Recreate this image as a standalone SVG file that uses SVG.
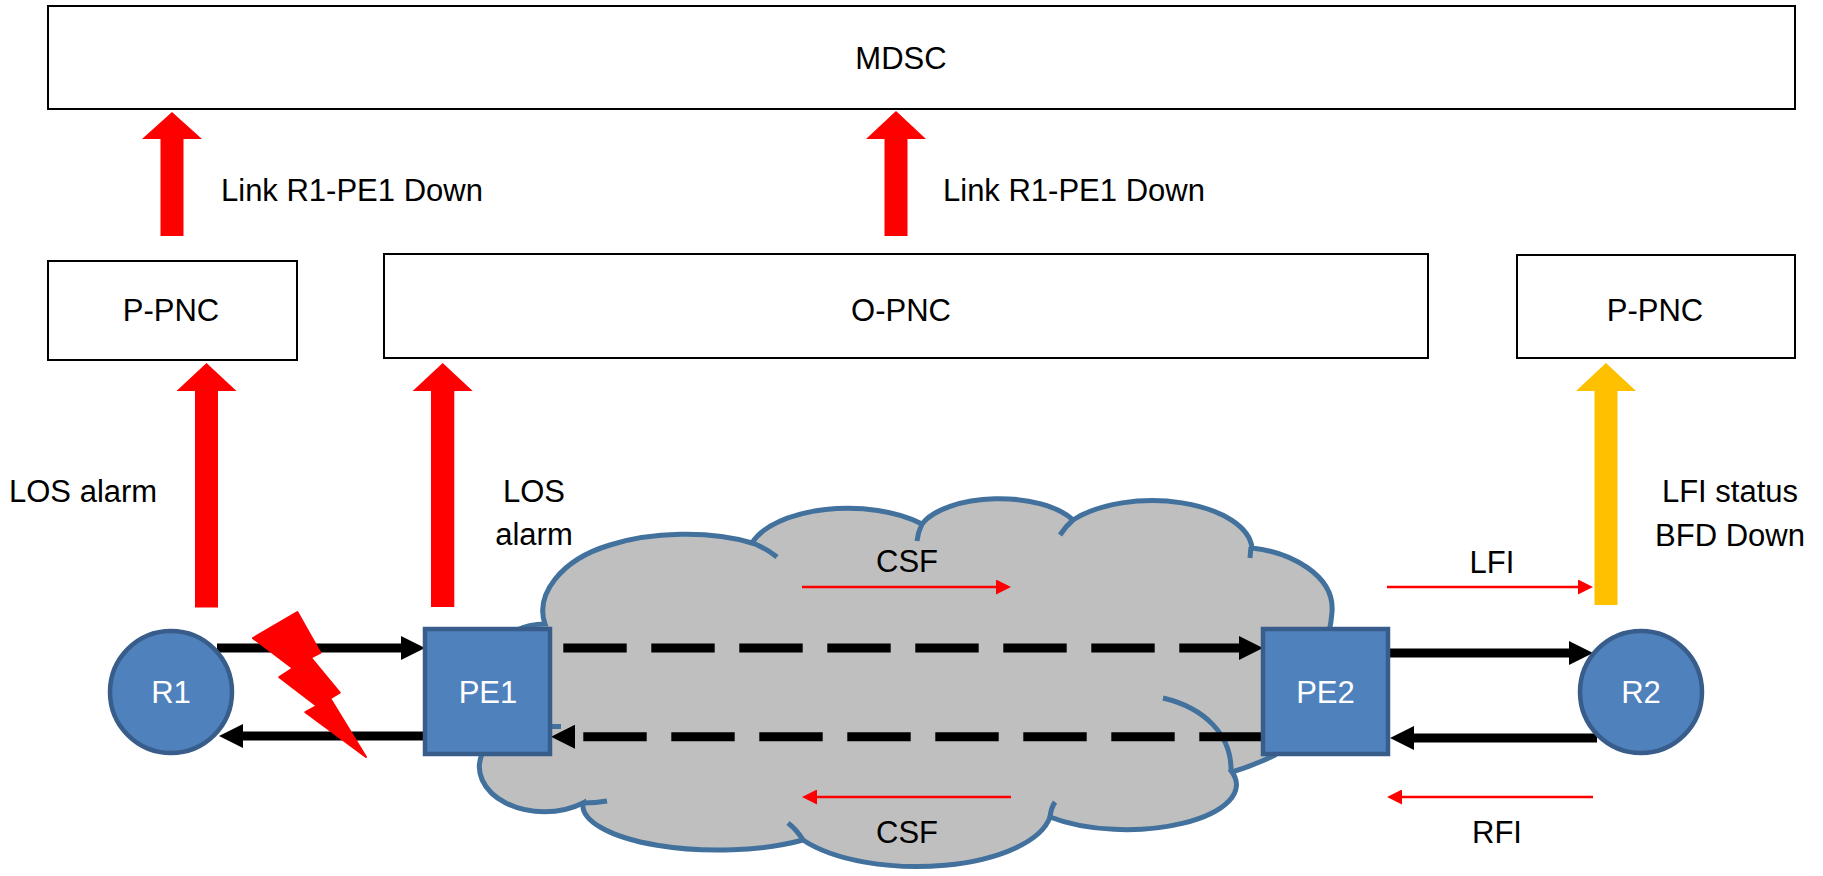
<svg xmlns="http://www.w3.org/2000/svg" width="1823" height="876" viewBox="0 0 1823 876">
<style>
.box{fill:#fff;stroke:#000;stroke-width:2}
.t{font-family:"Liberation Sans",Arial,sans-serif;font-size:31px;fill:#000}
.tw{font-family:"Liberation Sans",Arial,sans-serif;font-size:31px;fill:#fff}
.node{fill:#4F81BD;stroke:#385D8A;stroke-width:4.5}
.cl{fill:none;stroke:#41719C;stroke-width:5;stroke-linecap:butt}
.blk{fill:none;stroke:#000;stroke-width:9}
.dash{stroke-dasharray:63.4 24.6}
.red{fill:none;stroke:#FF0000;stroke-width:2.5}
</style>
<defs>
<marker id="hb" viewBox="0 0 24 24" refX="2" refY="12" markerWidth="24" markerHeight="24" orient="auto" markerUnits="userSpaceOnUse"><path d="M0,0 L24,12 L0,24 z" fill="#000"/></marker>
<marker id="hr" viewBox="0 0 15 15" refX="2" refY="7.5" markerWidth="15" markerHeight="15" orient="auto" markerUnits="userSpaceOnUse"><path d="M0,0 L15,7.5 L0,15 z" fill="#FF0000"/></marker>
</defs>
<rect width="1823" height="876" fill="#fff"/>

<g id="cloud">
<path d="M 545 624 C 535 595 560 560 610 545 C 650 532 710 530 752 543 A 100 48 0 0 1 922 524 A 82 38 0 0 1 1073 520 A 100 50 0 0 1 1252 548 C 1290 552 1335 575 1332 612 C 1330 640 1320 665 1300 690 L 1275 755 Q 1255 765 1232 772 A 110 45 0 0 1 1050 817 A 135 58 0 0 1 803 840 A 135 45 0 0 1 583 803 A 65 45 0 0 1 483 752 C 470 720 480 650 517 630 Q 530 624 545 624 Z" fill="#BFBFBF" stroke="#41719C" stroke-width="5"/>
<path class="cl" d="M 750 542 Q 766 548 777 557"/>
<path class="cl" d="M 922 524 Q 918 532 917 541"/>
<path class="cl" d="M 1073 520 Q 1066 526 1060 535"/>
<path class="cl" d="M 1251 547 L 1250 558"/>
<path class="cl" d="M 1231 772 C 1232 735 1205 708 1163 698"/>
<path class="cl" d="M 1050 817 Q 1051 808 1055 802"/>
<path class="cl" d="M 803 840 Q 797 830 788 823"/>
<path class="cl" d="M 583 803 Q 596 803 607 801"/>
<path class="cl" d="M 551 726.5 L 561 726.5"/>
</g>

<g id="connectors">
<path class="blk dash" d="M 563.3 648 L 1241 648" marker-end="url(#hb)"/>
<path class="blk dash" d="M 1262.7 736.7 L 573 736.7" marker-end="url(#hb)"/>
<path class="blk" d="M 217 648 L 403 648" marker-end="url(#hb)"/>
<path class="blk" d="M 425 736 L 241 736" marker-end="url(#hb)"/>
<path class="blk" d="M 1388 653 L 1571 653" marker-end="url(#hb)"/>
<path class="blk" d="M 1597 738 L 1412 738" marker-end="url(#hb)"/>
<path class="red" d="M 802 587 L 998 587" marker-end="url(#hr)"/>
<path class="red" d="M 1011 797 L 815 797" marker-end="url(#hr)"/>
<path class="red" d="M 1387 587 L 1580 587" marker-end="url(#hr)"/>
<path class="red" d="M 1593 797 L 1400 797" marker-end="url(#hr)"/>
<polygon points="160.5,236 160.5,139 142,139 172,112 202,139 183.5,139 183.5,236" fill="#FF0000"/>
<polygon points="884.5,236 884.5,139 866,139 896,111 926,139 907.5,139 907.5,236" fill="#FF0000"/>
<polygon points="195,607.5 195,391 176.5,391 206.5,363 236.5,391 218,391 218,607.5" fill="#FF0000"/>
<polygon points="431,607 431,391 412.7,391 442.7,363 472.7,391 454.3,391 454.3,607" fill="#FF0000"/>
<polygon points="1594.5,605 1594.5,391 1576,391 1606,363 1636,391 1617.5,391 1617.5,605" fill="#FFC000"/>
</g>

<g id="bolt">
<polygon points="297.3,612 320.3,652.8 310.8,657.6 339.7,692.6 330.2,698.4 366,757 305.4,712.1 316.9,705.9 279.3,677.1 292.8,668.3 253,638.1" fill="#FF0000" stroke="#FF0000" stroke-width="2" stroke-linejoin="round"/>
</g>

<g id="MDSC"><rect class="box" x="48" y="6" width="1747" height="103"/><text class="t" x="901" y="69" text-anchor="middle">MDSC</text></g>
<g id="P-PNC-left"><rect class="box" x="48" y="261" width="249" height="99"/><text class="t" x="171" y="321" text-anchor="middle">P-PNC</text></g>
<g id="O-PNC"><rect class="box" x="384" y="254" width="1044" height="104"/><text class="t" x="901" y="321" text-anchor="middle">O-PNC</text></g>
<g id="P-PNC-right"><rect class="box" x="1517" y="255" width="278" height="103"/><text class="t" x="1655" y="321" text-anchor="middle">P-PNC</text></g>

<g id="R1"><circle class="node" cx="171" cy="692" r="61"/><text class="tw" x="171" y="703" text-anchor="middle">R1</text></g>
<g id="PE1"><rect class="node" x="425" y="629" width="125" height="125"/><text class="tw" x="488" y="703" text-anchor="middle">PE1</text></g>
<g id="PE2"><rect class="node" x="1263" y="629" width="125" height="125"/><text class="tw" x="1325.5" y="703" text-anchor="middle">PE2</text></g>
<g id="R2"><circle class="node" cx="1641" cy="692" r="61"/><text class="tw" x="1641" y="703" text-anchor="middle">R2</text></g>

<g id="labels">
<text class="t" x="221" y="201">Link R1-PE1 Down</text>
<text class="t" x="943" y="201">Link R1-PE1 Down</text>
<text class="t" x="9" y="502">LOS alarm</text>
<text class="t" x="534" y="502" text-anchor="middle">LOS</text>
<text class="t" x="534" y="545" text-anchor="middle">alarm</text>
<text class="t" x="1730" y="502" text-anchor="middle">LFI status</text>
<text class="t" x="1730" y="546" text-anchor="middle">BFD Down</text>
<text class="t" x="907" y="572" text-anchor="middle">CSF</text>
<text class="t" x="907" y="843" text-anchor="middle">CSF</text>
<text class="t" x="1492" y="573" text-anchor="middle">LFI</text>
<text class="t" x="1497" y="843" text-anchor="middle">RFI</text>
</g>
</svg>
